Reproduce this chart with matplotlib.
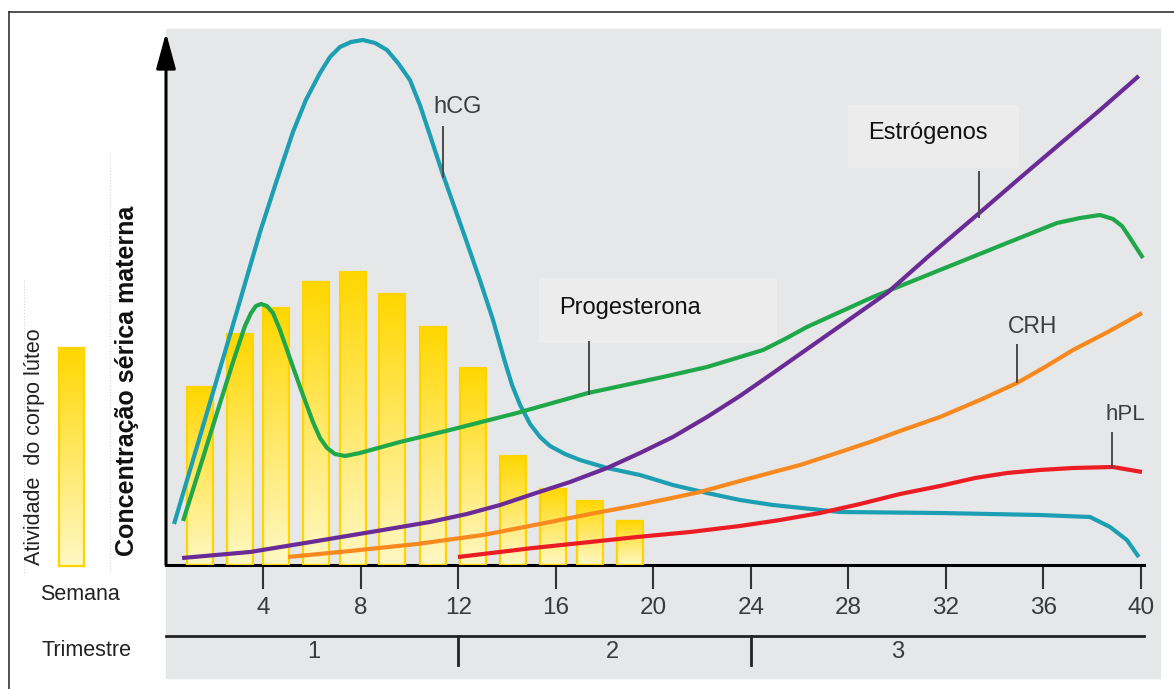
import numpy as np
import matplotlib
matplotlib.use('Agg')
import matplotlib.pyplot as plt
from matplotlib.patches import Rectangle
from matplotlib.colors import LinearSegmentedColormap
from matplotlib.lines import Line2D

plt.rcParams['font.family'] = ['Liberation Sans', 'DejaVu Sans']

# semanas de gestação (eixo x) e concentração relativa (eixo y, unidades arbitrárias)
hcg_x = [0.33, 2.71, 3.86, 4.55, 5.21, 5.74, 6.32, 6.73, 7.14, 7.59, 8.08, 8.58, 9.07,
         9.52, 10.01, 10.42, 10.83, 11.37, 12.27, 12.88, 13.42, 13.91, 14.20, 14.53,
         14.94, 15.35, 15.76, 16.37, 16.99, 18.10, 19.45, 20.80, 22.20, 23.55, 24.91,
         27.66, 31.76, 35.86, 37.92, 38.74, 39.43, 39.92]
hcg_y = [8.2, 47.4, 66.6, 77.0, 86.6, 93.0, 98.4, 101.6, 103.6, 104.6, 105.0, 104.4, 103.0,
         100.4, 97.0, 92.0, 86.0, 78.0, 65.6, 57.0, 49.0, 40.6, 36.0, 32.0,
         28.2, 25.6, 23.8, 22.2, 21.0, 19.4, 18.0, 16.0, 14.4, 13.0, 12.0,
         10.6, 10.4, 10.0, 9.6, 7.6, 5.0, 1.6]

prog_x = [0.70, 1.40, 2.09, 2.75, 3.24, 3.49, 3.69, 3.90, 4.14, 4.39, 4.68, 5.21, 5.62,
          6.03, 6.32, 6.61, 6.93, 7.35, 7.96, 9.60, 11.65, 14.40, 17.32, 20.39, 22.20,
          24.50, 25.40, 26.30, 29.01, 31.76, 34.51, 36.56, 37.51, 38.33, 38.86, 39.23,
          39.56, 40.09]
prog_y = [8.8, 19.6, 30.4, 40.6, 47.8, 50.4, 51.8, 52.2, 51.8, 50.4, 47.0, 39.6, 34.0,
          28.6, 25.4, 23.4, 22.2, 21.8, 22.4, 24.6, 27.0, 30.4, 34.4, 37.6, 39.6,
          43.0, 45.2, 47.6, 53.6, 59.0, 64.4, 68.4, 69.4, 70.0, 69.2, 67.8,
          65.4, 61.4]

estr_x = [0.66, 3.45, 6.20, 8.90, 10.83, 12.35, 13.71, 15.06, 16.58, 18.10, 19.45, 20.80,
          22.20, 23.55, 24.91, 26.02, 27.25, 28.48, 29.59, 31.35, 33.28, 35.04, 36.68,
          38.33, 39.92]
estr_y = [1.4, 2.6, 4.8, 7.0, 8.6, 10.2, 12.0, 14.2, 16.6, 19.4, 22.4, 25.6,
          29.6, 33.8, 38.4, 42.2, 46.4, 50.6, 54.4, 62.0, 70.0, 77.4, 84.2,
          91.0, 97.8]

crh_x = [5.01, 7.55, 10.30, 13.01, 15.76, 17.40, 19.16, 20.56, 21.91, 23.55, 24.78, 26.02,
         27.66, 28.89, 30.12, 31.76, 33.40, 34.92, 36.07, 37.22, 38.65, 40.05]
crh_y = [1.6, 2.8, 4.2, 6.0, 8.6, 10.2, 11.8, 13.2, 14.6, 16.8, 18.4, 20.0,
         22.6, 24.6, 26.8, 29.6, 33.0, 36.4, 39.6, 43.0, 46.6, 50.4]

hpl_x = [11.98, 15.06, 17.40, 19.33, 21.50, 23.55, 25.20, 26.84, 28.48, 30.12, 31.76,
         33.20, 34.51, 35.86, 37.22, 38.86, 40.05]
hpl_y = [1.6, 3.4, 4.6, 5.6, 6.6, 7.8, 9.0, 10.4, 12.2, 14.2, 15.8,
         17.4, 18.4, 19.0, 19.4, 19.6, 18.6]

# atividade do corpo lúteo (barras)
luteo_x = [1.40, 3.04, 4.51, 6.16, 7.67, 9.27, 10.96, 12.60, 14.24, 15.88, 17.40, 19.04]
luteo_h = [35.6, 46.2, 51.4, 56.6, 58.6, 54.2, 47.6, 39.4, 21.8, 15.2, 12.8, 8.8]

semanas = [4, 8, 12, 16, 20, 24, 28, 32, 36, 40]
trimestres = ['1', '2', '3']
trim_lim = [12, 24]

W, H = 1174, 689


def fx(px):
    return px / W


def fy(py):
    return 1 - py / H


bg = '#e6e7e8'
gold = LinearSegmentedColormap.from_list('luteo', ['#fff8c4', '#ffe866', '#ffd700'])
grad = np.linspace(0, 1, 256).reshape(-1, 1)

fig = plt.figure(figsize=(W / 100, H / 100), dpi=100)

# moldura e fundo cinzento
fig.add_artist(Line2D([fx(9), fx(1174)], [fy(12), fy(12)], color='#333333', lw=1.2))
fig.add_artist(Line2D([fx(9), fx(9)], [fy(12), fy(689)], color='#333333', lw=1.2))
fig.add_artist(Line2D([fx(24), fx(24)], [fy(280), fy(573)], color='#d4d4d4', lw=0.8, ls=':'))
fig.add_artist(Line2D([fx(110), fx(110)], [fy(153), fy(573)], color='#d4d4d4', lw=0.8, ls=':'))
fig.add_artist(Rectangle((fx(166), fy(678)), fx(1160) - fx(166), fy(29) - fy(678),
                         transform=fig.transFigure, color=bg, zorder=0))

ax = fig.add_axes([fx(166), fy(565), fx(1160) - fx(166), fy(29) - fy(565)])
ax.patch.set_visible(False)

bars = ax.bar(luteo_x, luteo_h, width=1.07, color='none', edgecolor='#ffd400', lw=1.6, zorder=3)
for b in bars:
    x0, w, h = b.get_x(), b.get_width(), b.get_height()
    ax.imshow(grad, extent=[x0, x0 + w, 0, h], origin='lower', aspect='auto', cmap=gold, zorder=2)

ax.plot(hcg_x, hcg_y, color='#1c9fb2', lw=3, zorder=4, solid_capstyle='butt', solid_joinstyle='round')
ax.plot(prog_x, prog_y, color='#1fa84a', lw=3, zorder=4, solid_capstyle='butt', solid_joinstyle='round')
ax.plot(estr_x, estr_y, color='#6a2b97', lw=3, zorder=4, solid_capstyle='butt', solid_joinstyle='round')
ax.plot(crh_x, crh_y, color='#f7891f', lw=3, zorder=4, solid_capstyle='butt', solid_joinstyle='round')
ax.plot(hpl_x, hpl_y, color='#ec1c24', lw=3, zorder=4, solid_capstyle='butt', solid_joinstyle='round')

ax.set_xlim(0, 40.79)
ax.set_ylim(0, 107.2)

# rótulos das hormonas
ax.add_patch(Rectangle((15.31, 44.6), 9.72, 12.8, color='#ececec', zorder=1))
ax.add_patch(Rectangle((27.99, 79.6), 6.97, 12.4, color='#ececec', zorder=1))
lab = '#4a4a4a'
ax.plot([11.37, 11.37], [87.6, 77.6], color=lab, lw=1.4, zorder=5)
ax.plot([17.36, 17.36], [44.6, 34.2], color=lab, lw=1.4, zorder=5)
ax.plot([33.36, 33.36], [78.6, 69.6], color=lab, lw=1.4, zorder=5)
ax.plot([34.92, 34.92], [44.0, 36.6], color=lab, lw=1.4, zorder=5)
ax.plot([38.82, 38.82], [26.4, 19.6], color=lab, lw=1.4, zorder=5)
ax.text(11.98, 91.6, 'hCG', fontsize=17, color='#3d3d3d', ha='center', va='center')
ax.text(19.04, 51.4, 'Progesterona', fontsize=17, color='#111111', ha='center', va='center')
ax.text(31.27, 86.4, 'Estrógenos', fontsize=17, color='#111111', ha='center', va='center')
ax.text(35.54, 47.6, 'CRH', fontsize=16.5, color='#3d3d3d', ha='center', va='center')
ax.text(39.35, 30.0, 'hPL', fontsize=16, color='#3d3d3d', ha='center', va='center')

# eixos
for s in ['top', 'right', 'left']:
    ax.spines[s].set_visible(False)
ax.spines['bottom'].set_bounds(0, 40.15)
ax.spines['bottom'].set_linewidth(2.2)
ax.annotate('', xy=(0, 0.993), xytext=(0, 0), xycoords='axes fraction',
            arrowprops=dict(arrowstyle='-|>,head_length=1.1,head_width=0.3',
                            lw=2.2, color='black', mutation_scale=20, shrinkA=0, shrinkB=0))
ax.set_yticks([])
ax.set_xticks(semanas)
ax.set_xticklabels([str(s) for s in semanas])
ax.tick_params(axis='x', length=17, width=1.5, color='#333333', pad=6,
               labelsize=17.5, labelcolor='#3a3a3a')

# trimestres
tr = ax.get_xaxis_transform()
ax.plot([0, 40.15], [-0.1325, -0.1325], transform=tr, color='#222222', lw=2, clip_on=False)
for t in trim_lim:
    ax.plot([t, t], [-0.1325, -0.186], transform=tr, color='#222222', lw=2, clip_on=False)
for t, xpos in zip(trimestres, [6.07, 18.34, 30.04]):
    ax.text(xpos, -0.163, t, transform=tr, fontsize=17, color='#3a3a3a', ha='center', va='center')

# legenda à esquerda
axl = fig.add_axes([fx(59), fy(566), fx(84) - fx(59), fy(348) - fy(566)])
axl.imshow(grad, origin='lower', aspect='auto', cmap=gold, extent=[0, 1, 0, 1])
axl.set_xticks([])
axl.set_yticks([])
for s in axl.spines.values():
    s.set_color('#ffd400')
    s.set_linewidth(1.6)

fig.text(fx(35), fy(447), 'Atividade  do corpo lúteo', rotation=90, fontsize=15.5,
         color='#222222', ha='center', va='center')
fig.text(fx(127), fy(381), 'Concentração sérica materna', rotation=90, fontsize=18,
         fontweight='bold', color='#111111', ha='center', va='center')
fig.text(fx(80), fy(594), 'Semana', fontsize=15.5, color='#222222', ha='center', va='center')
fig.text(fx(86), fy(651), 'Trimestre', fontsize=15.5, color='#222222', ha='center', va='center')

fig.savefig('out.png', dpi=100)
